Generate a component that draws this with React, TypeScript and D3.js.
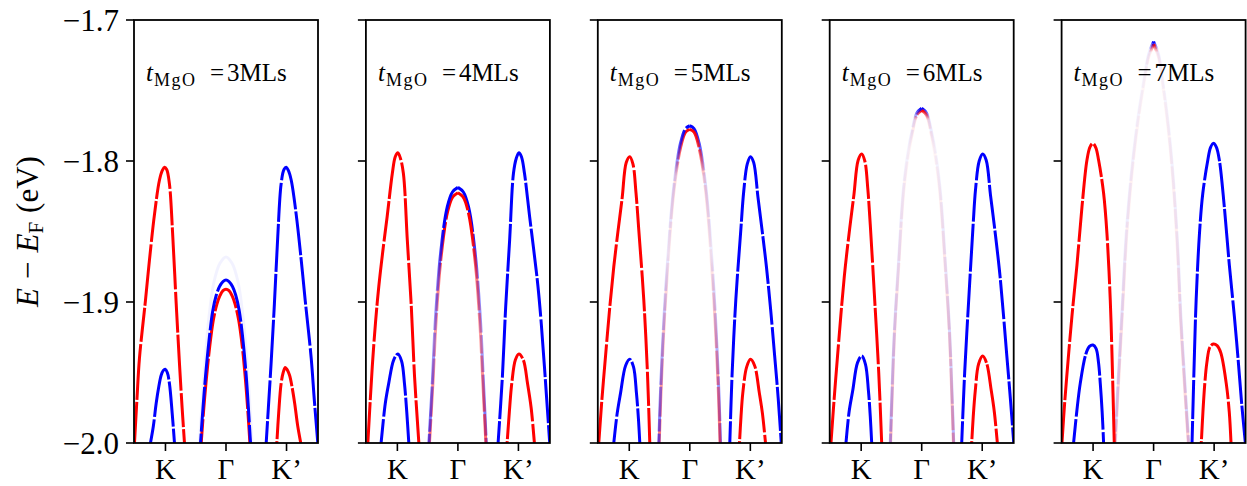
import React from "react";
import * as d3 from "d3";

type Pt = [number, number];

// ---- labels / ticks ----
const layers = ["3", "4", "5", "6", "7"];
const xTickValues = [-1, 0, 1];
const xTickLabels = ["K", "\u0393", "K\u2019"];
const yTickValues = [-2.0, -1.9, -1.8, -1.7];
const yTickLabels = ["\u22122.0", "\u22121.9", "\u22121.8", "\u22121.7"];

// ---- t_MgO = 3 MLs ----
const p3RedK: Pt[] = [[-1.512,-2.0],[-1.47,-1.968],[-1.43,-1.94],[-1.331,-1.899],[-1.264,-1.87],[-1.182,-1.838],[-1.099,-1.8135],[-1.05,-1.8065],[-1.017,-1.8045],[-0.98,-1.806],[-0.934,-1.8165],[-0.879,-1.8537],[-0.823,-1.901],[-0.769,-1.9435],[-0.725,-1.975],[-0.686,-2.0]];
const p3BlueK: Pt[] = [[-1.248,-2.0],[-1.2,-1.988],[-1.154,-1.972],[-1.11,-1.96],[-1.071,-1.952],[-1.035,-1.9485],[-1.005,-1.9477],[-0.97,-1.95],[-0.934,-1.958],[-0.889,-1.979],[-0.851,-2.0]];
const p3BlueKp: Pt[] = [[0.664,-2.0],[0.7,-1.975],[0.745,-1.9435],[0.8,-1.901],[0.855,-1.8537],[0.91,-1.8165],[0.958,-1.806],[0.995,-1.8045],[1.028,-1.8065],[1.077,-1.8135],[1.16,-1.838],[1.242,-1.87],[1.309,-1.899],[1.408,-1.94],[1.46,-1.97],[1.517,-2.0]];
const p3RedKp: Pt[] = [[0.84,-2.0],[0.87,-1.979],[0.91,-1.958],[0.945,-1.95],[0.978,-1.9465],[1.01,-1.948],[1.05,-1.952],[1.09,-1.96],[1.135,-1.972],[1.185,-1.988],[1.235,-2.0]];
const p3BlueG: Pt[] = [[-0.421,-2.0],[-0.38,-1.975],[-0.339,-1.953],[-0.28,-1.927],[-0.218,-1.906],[-0.16,-1.895],[-0.107,-1.889],[-0.05,-1.8855],[0,-1.8844],[0.05,-1.8855],[0.107,-1.889],[0.16,-1.895],[0.218,-1.906],[0.28,-1.927],[0.335,-1.953],[0.37,-1.975],[0.405,-2.0]];
const p3RedG: Pt[] = [[-0.41,-2.0],[-0.37,-1.977],[-0.33,-1.957],[-0.27,-1.932],[-0.21,-1.913],[-0.15,-1.9015],[-0.1,-1.8955],[-0.05,-1.892],[0,-1.891],[0.05,-1.892],[0.1,-1.8955],[0.15,-1.9015],[0.21,-1.913],[0.27,-1.932],[0.325,-1.957],[0.36,-1.977],[0.395,-2.0]];
const p3Ghost: Pt[] = [[-0.44,-2.0],[-0.36,-1.95],[-0.28,-1.91],[-0.2,-1.886],[-0.1,-1.8725],[0,-1.868],[0.1,-1.8725],[0.2,-1.886],[0.28,-1.91],[0.36,-1.95],[0.43,-2.0]];

// ---- t_MgO = 4 MLs ----
const p4RedK: Pt[] = [[-1.488,-2.0],[-1.415,-1.946],[-1.36,-1.914],[-1.307,-1.889],[-1.235,-1.862],[-1.169,-1.8395],[-1.083,-1.8087],[-1.035,-1.797],[-0.992,-1.7941],[-0.95,-1.798],[-0.901,-1.8087],[-0.836,-1.856],[-0.77,-1.903],[-0.716,-1.953],[-0.645,-2.0]];
const p4BlueK: Pt[] = [[-1.269,-2.0],[-1.2,-1.972],[-1.143,-1.9577],[-1.06,-1.941],[-0.992,-1.9369],[-0.93,-1.942],[-0.883,-1.9577],[-0.845,-1.978],[-0.811,-2.0]];
const p4BlueKp: Pt[] = [[0.664,-2.0],[0.735,-1.953],[0.79,-1.903],[0.855,-1.856],[0.918,-1.8087],[0.965,-1.798],[1.008,-1.7941],[1.05,-1.797],[1.1,-1.8087],[1.185,-1.8395],[1.25,-1.862],[1.323,-1.889],[1.375,-1.914],[1.43,-1.946],[1.517,-2.0]];
const p4RedKp: Pt[] = [[0.813,-2.0],[0.85,-1.978],[0.89,-1.9577],[0.95,-1.941],[1.008,-1.9369],[1.08,-1.941],[1.15,-1.9577],[1.21,-1.975],[1.264,-2.0]];
const p4BlueG: Pt[] = [[-0.479,-2.0],[-0.42,-1.955],[-0.369,-1.9104],[-0.286,-1.8655],[-0.175,-1.8324],[-0.09,-1.822],[0,-1.8187],[0.09,-1.822],[0.175,-1.8324],[0.286,-1.8655],[0.369,-1.9104],[0.42,-1.955],[0.469,-2.0]];
const p4RedG: Pt[] = [[-0.47,-2.0],[-0.41,-1.955],[-0.36,-1.913],[-0.28,-1.869],[-0.17,-1.836],[-0.085,-1.8255],[0,-1.8225],[0.085,-1.8255],[0.17,-1.836],[0.28,-1.869],[0.36,-1.913],[0.41,-1.955],[0.462,-2.0]];

// ---- t_MgO = 5 MLs ----
const p5RedK: Pt[] = [[-1.504,-2.0],[-1.45,-1.968],[-1.393,-1.9388],[-1.325,-1.905],[-1.256,-1.875],[-1.19,-1.851],[-1.117,-1.826],[-1.05,-1.801],[-0.992,-1.7969],[-0.94,-1.802],[-0.89,-1.822],[-0.843,-1.8489],[-0.76,-1.8986],[-0.7,-1.95],[-0.661,-2.0]];
const p5BlueK: Pt[] = [[-1.256,-2.0],[-1.2,-1.979],[-1.145,-1.9648],[-1.06,-1.945],[-0.992,-1.9406],[-0.93,-1.946],[-0.881,-1.9648],[-0.85,-1.982],[-0.826,-2.0]];
const p5BlueKp: Pt[] = [[0.661,-2.0],[0.7,-1.95],[0.76,-1.8986],[0.843,-1.8489],[0.89,-1.822],[0.95,-1.802],[1.003,-1.7969],[1.055,-1.801],[1.127,-1.826],[1.2,-1.851],[1.266,-1.875],[1.335,-1.905],[1.403,-1.9388],[1.46,-1.968],[1.511,-2.0]];
const p5RedKp: Pt[] = [[0.821,-2.0],[0.845,-1.982],[0.875,-1.9648],[0.94,-1.946],[1.003,-1.9406],[1.07,-1.945],[1.15,-1.9648],[1.2,-1.979],[1.251,-2.0]];
const p5BlueG: Pt[] = [[-0.512,-2.0],[-0.486,-1.966],[-0.44,-1.922],[-0.374,-1.875],[-0.264,-1.8182],[-0.154,-1.7874],[-0.07,-1.777],[0,-1.775],[0.07,-1.777],[0.154,-1.7874],[0.264,-1.8182],[0.374,-1.875],[0.437,-1.922],[0.482,-1.966],[0.507,-2.0]];
const p5RedG: Pt[] = [[-0.505,-2.0],[-0.478,-1.966],[-0.432,-1.922],[-0.368,-1.877],[-0.26,-1.8205],[-0.15,-1.79],[-0.07,-1.7795],[0,-1.7775],[0.07,-1.7795],[0.15,-1.79],[0.26,-1.8205],[0.365,-1.877],[0.428,-1.922],[0.474,-1.966],[0.5,-2.0]];

// ---- t_MgO = 6 MLs ----
const p6RedK: Pt[] = [[-1.499,-2.0],[-1.445,-1.968],[-1.39,-1.938],[-1.279,-1.882],[-1.19,-1.848],[-1.12,-1.824],[-1.05,-1.7995],[-0.992,-1.795],[-0.94,-1.8],[-0.89,-1.82],[-0.85,-1.845],[-0.783,-1.8938],[-0.71,-1.95],[-0.661,-2.0]];
const p6BlueK: Pt[] = [[-1.251,-2.0],[-1.2,-1.978],[-1.14,-1.963],[-1.06,-1.943],[-0.992,-1.9383],[-0.93,-1.944],[-0.88,-1.963],[-0.85,-1.981],[-0.826,-2.0]];
const p6BlueKp: Pt[] = [[0.661,-2.0],[0.71,-1.95],[0.783,-1.8938],[0.85,-1.845],[0.89,-1.82],[0.95,-1.8],[1.008,-1.795],[1.066,-1.7995],[1.136,-1.824],[1.206,-1.848],[1.295,-1.882],[1.406,-1.938],[1.464,-1.968],[1.521,-2.0]];
const p6RedKp: Pt[] = [[0.826,-2.0],[0.852,-1.981],[0.885,-1.963],[0.94,-1.944],[1.008,-1.9383],[1.07,-1.943],[1.15,-1.963],[1.2,-1.978],[1.25,-2.0]];
const p6BlueG: Pt[] = [[-0.519,-2.0],[-0.496,-1.9695],[-0.453,-1.922],[-0.387,-1.875],[-0.298,-1.818],[-0.22,-1.792],[-0.165,-1.78],[-0.08,-1.766],[0,-1.7626],[0.08,-1.766],[0.165,-1.78],[0.22,-1.792],[0.3,-1.818],[0.395,-1.875],[0.462,-1.922],[0.505,-1.9695],[0.529,-2.0]];
const p6RedG: Pt[] = [[-0.514,-2.0],[-0.49,-1.9695],[-0.448,-1.922],[-0.382,-1.876],[-0.294,-1.82],[-0.215,-1.794],[-0.16,-1.7815],[-0.08,-1.7675],[0,-1.764],[0.08,-1.7675],[0.16,-1.7815],[0.215,-1.794],[0.295,-1.82],[0.39,-1.876],[0.457,-1.922],[0.5,-1.9695],[0.524,-2.0]];

// ---- t_MgO = 7 MLs ----
const p7RedK: Pt[] = [[-1.514,-2.0],[-1.47,-1.972],[-1.41,-1.94],[-1.349,-1.91],[-1.266,-1.8736],[-1.183,-1.8324],[-1.101,-1.7993],[-1.05,-1.79],[-1.002,-1.7875],[-0.955,-1.7905],[-0.909,-1.7993],[-0.826,-1.8229],[-0.771,-1.8513],[-0.716,-1.8986],[-0.688,-1.9364],[-0.65,-2.0]];
const p7BlueK: Pt[] = [[-1.322,-2.0],[-1.27,-1.978],[-1.212,-1.9577],[-1.12,-1.937],[-1.06,-1.9315],[-1.002,-1.9305],[-0.95,-1.933],[-0.91,-1.943],[-0.881,-1.9577],[-0.85,-1.978],[-0.826,-2.0]];
const p7BlueKp: Pt[] = [[0.635,-2.0],[0.675,-1.9364],[0.703,-1.8986],[0.758,-1.8513],[0.813,-1.8229],[0.896,-1.7993],[0.94,-1.7905],[0.987,-1.7875],[1.035,-1.79],[1.086,-1.7993],[1.168,-1.8324],[1.251,-1.8736],[1.334,-1.91],[1.395,-1.94],[1.455,-1.972],[1.516,-2.0]];
const p7RedKp: Pt[] = [[0.788,-2.0],[0.815,-1.978],[0.846,-1.9577],[0.88,-1.943],[0.93,-1.932],[0.987,-1.9298],[1.05,-1.931],[1.11,-1.936],[1.2,-1.9577],[1.25,-1.978],[1.279,-2.0]];
const p7BlueG: Pt[] = [[-0.64,-2.0],[-0.585,-1.955],[-0.52,-1.905],[-0.451,-1.8513],[-0.37,-1.81],[-0.27,-1.773],[-0.17,-1.745],[-0.08,-1.724],[0,-1.7154],[0.08,-1.724],[0.16,-1.746],[0.25,-1.777],[0.33,-1.815],[0.4,-1.862],[0.45,-1.91],[0.52,-1.96],[0.58,-2.0]];
const p7RedG: Pt[] = [[-0.632,-2.0],[-0.578,-1.956],[-0.513,-1.906],[-0.445,-1.853],[-0.365,-1.812],[-0.266,-1.775],[-0.167,-1.747],[-0.079,-1.726],[0,-1.7172],[0.079,-1.726],[0.157,-1.748],[0.246,-1.779],[0.326,-1.817],[0.395,-1.864],[0.445,-1.912],[0.514,-1.961],[0.573,-2.0]];

// opacity of the Γ-point band (offset from top of band, opacity)
const gammaFade3: Pt[] = [[0, 1], [1, 1]];
const gammaFade4: Pt[] = [[0, 1], [0.15, 1], [0.35, 0.5], [0.6, 0.35], [1, 0.6]];
const gammaFade5: Pt[] = [[0, 1], [0.04, 0.8], [0.15, 0.15], [0.4, 0.07], [0.7, 0.3], [1, 0.55]];
const gammaFade6: Pt[] = [[0, 1], [0.008, 0.7], [0.03, 0.1], [0.12, 0.04], [0.5, 0.1], [0.8, 0.2], [1, 0.3]];
const gammaFade7: Pt[] = [[0, 1], [0.005, 0.6], [0.02, 0.07], [0.08, 0.035], [0.5, 0.07], [1, 0.18]];

const panelData = [
  { redK: p3RedK, blueK: p3BlueK, blueKp: p3BlueKp, redKp: p3RedKp, blueG: p3BlueG, redG: p3RedG, ghost: p3Ghost, fade: gammaFade3, redRightTop: false },
  { redK: p4RedK, blueK: p4BlueK, blueKp: p4BlueKp, redKp: p4RedKp, blueG: p4BlueG, redG: p4RedG, ghost: null, fade: gammaFade4, redRightTop: true },
  { redK: p5RedK, blueK: p5BlueK, blueKp: p5BlueKp, redKp: p5RedKp, blueG: p5BlueG, redG: p5RedG, ghost: null, fade: gammaFade5, redRightTop: true },
  { redK: p6RedK, blueK: p6BlueK, blueKp: p6BlueKp, redKp: p6RedKp, blueG: p6BlueG, redG: p6RedG, ghost: null, fade: gammaFade6, redRightTop: true },
  { redK: p7RedK, blueK: p7BlueK, blueKp: p7BlueKp, redKp: p7RedKp, blueG: p7BlueG, redG: p7RedG, ghost: null, fade: gammaFade7, redRightTop: true },
];

// ---- layout ----
const W = 1247;
const H = 486;
const LEFT0 = 134;
const STEP = 231.9;
const PW = 184;
const TOP = 20;
const BOTTOM = 443;
const RED = "#ff0000";
const BLUE = "#0000ff";
const FONT = "'Liberation Serif', 'Times New Roman', serif";
const DASHES = ["41 2 56 2.5 34 2 62 2.5", "37 2.5 61 2 45 2 52 2.5", "48 2 39 2.5 58 2 44 2"];

export default function App() {
  const y = d3.scaleLinear().domain([-2.0, -1.7]).range([BOTTOM, TOP]);

  return (
    <svg width={W} height={H} viewBox={`0 0 ${W} ${H}`} style={{ display: "block", position: "absolute", left: 0, top: 0, background: "#fff" }}>
      <defs>
        {panelData.map((pd, i) => (
          <React.Fragment key={i}>
            <clipPath id={`clip${i}`}>
              <rect x={LEFT0 + i * STEP} y={TOP} width={PW} height={BOTTOM - TOP} />
            </clipPath>
            {[["b", BLUE], ["r", RED]].map(([n, c]) => (
              <linearGradient key={n} id={`g${i}${n}`} x1="0" y1="0" x2="0" y2="1">
                {pd.fade.map(([o, a], j) => (
                  <stop key={j} offset={o} stopColor={c} stopOpacity={a} />
                ))}
              </linearGradient>
            ))}
          </React.Fragment>
        ))}
      </defs>

      {panelData.map((pd, i) => {
        const left = LEFT0 + i * STEP;
        const x = d3.scaleLinear().domain([-1.52, 1.52]).range([left, left + PW]);
        const line = d3
          .line<Pt>()
          .x((d) => x(d[0]))
          .y((d) => y(d[1]))
          .curve(d3.curveCatmullRom.alpha(0.5));
        const leftHalf = (p: Pt[]) => p.filter((d) => d[0] <= 0);
        const rightHalf = (p: Pt[]) => p.filter((d) => d[0] >= 0);
        const band = (p: Pt[], stroke: string, k: number, key: string, opacity = 1) => (
          <path
            key={key}
            d={line(p) || ""}
            fill="none"
            stroke={stroke}
            strokeWidth={3}
            strokeOpacity={opacity}
            strokeDasharray={DASHES[k % DASHES.length]}
            strokeDashoffset={k * 13}
          />
        );
        const gb = `url(#g${i}b)`;
        const gr = `url(#g${i}r)`;
        const gammaPaths = pd.redRightTop
          ? [
              band(rightHalf(pd.blueG), gb, 4, "gbr"),
              band(leftHalf(pd.redG), gr, 5, "grl"),
              band(rightHalf(pd.redG), gr, 6, "grr"),
              band(leftHalf(pd.blueG), gb, 7, "gbl"),
            ]
          : [band(pd.redG, RED, 5, "gr"), band(pd.blueG, BLUE, 7, "gb")];
        return (
          <g key={i}>
            <g clipPath={`url(#clip${i})`}>
              {pd.ghost && (
                <path d={line(pd.ghost) || ""} fill="none" stroke={BLUE} strokeWidth={3} strokeOpacity={0.05} />
              )}
              {gammaPaths}
              {band(pd.redK, RED, 0, "rk")}
              {band(pd.blueK, BLUE, 1, "bk")}
              {band(pd.blueKp, BLUE, 2, "bkp")}
              {band(pd.redKp, RED, 3, "rkp")}
            </g>
            <rect x={left} y={TOP} width={PW} height={BOTTOM - TOP} fill="none" stroke="#000" strokeWidth={1.8} />
            {yTickValues.map((v, j) => (
              <g key={`yt${j}`}>
                <line x1={left - 8} x2={left} y1={y(v)} y2={y(v)} stroke="#000" strokeWidth={1.6} />
                {i === 0 && (
                  <text x={left - 15} y={y(v) + 11} textAnchor="end" fontFamily={FONT} fontSize={31} fill="#000">
                    {yTickLabels[j]}
                  </text>
                )}
              </g>
            ))}
            {xTickValues.map((v, j) => (
              <g key={`xt${j}`}>
                <line x1={x(v)} x2={x(v)} y1={BOTTOM} y2={BOTTOM + 8} stroke="#000" strokeWidth={1.6} />
                <text x={x(v)} y={479} textAnchor="middle" fontFamily={FONT} fontSize={29} fill="#000">
                  {xTickLabels[j]}
                </text>
              </g>
            ))}
            <text y={81} fontFamily={FONT} fontSize={25} fill="#000">
              <tspan x={left + 12} fontStyle="italic">t</tspan>
              <tspan x={left + 20} y={86} fontSize={18} letterSpacing={1.5}>MgO</tspan>
              <tspan x={left + 76} y={81}>=</tspan>
              <tspan x={left + 93} y={81}>{`${layers[i]}MLs`}</tspan>
            </text>
          </g>
        );
      })}

      <text
        transform={`translate(38, ${(TOP + BOTTOM) / 2}) rotate(-90)`}
        textAnchor="middle"
        fontFamily={FONT}
        fontSize={31}
        fill="#000"
      >
        <tspan fontStyle="italic">E</tspan>
        <tspan dx={9}>{"\u2212"}</tspan>
        <tspan dx={9} fontStyle="italic">E</tspan>
        <tspan fontSize={21} dy={5}>F</tspan>
        <tspan dx={9} dy={-5}>(eV)</tspan>
      </text>
    </svg>
  );
}
